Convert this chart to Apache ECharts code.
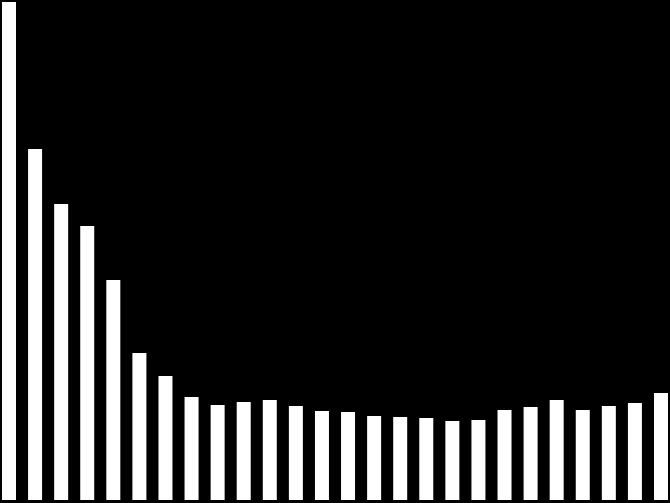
<!DOCTYPE html>
<html>
<head>
<meta charset="utf-8">
<script src="https://cdn.jsdelivr.net/npm/echarts@6/dist/echarts.min.js"></script>
<style>html,body{margin:0;padding:0;background:#000;}#c{width:670px;height:503px;}</style>
</head>
<body>
<div id="c"></div>
<script>
var categories = ['1','2','3','4','5','6','7','8','9','10','11','12','13','14','15','16','17','18','19','20','21','22','23','24','25','26'];
var values = [498, 351, 296, 274, 220, 147, 124, 103, 95, 98, 100, 94, 89, 88, 84, 83, 82, 79, 80, 90, 93, 100, 90, 94, 97, 107];
var points = values.map(function (v, i) { return [i, v]; });
var chart = echarts.init(document.getElementById('c'));
chart.setOption({
  backgroundColor: '#000000',
  animation: false,
  grid: { left: 0, right: 0, top: 0, bottom: 3, containLabel: false },
  xAxis: { type: 'value', min: -0.345, max: 25.345, show: false },
  yAxis: { type: 'value', min: 0, max: 500, show: false },
  series: [{ type: 'bar', data: points, barWidth: 14, itemStyle: { color: '#ffffff' } }]
});
</script>
</body>
</html>
